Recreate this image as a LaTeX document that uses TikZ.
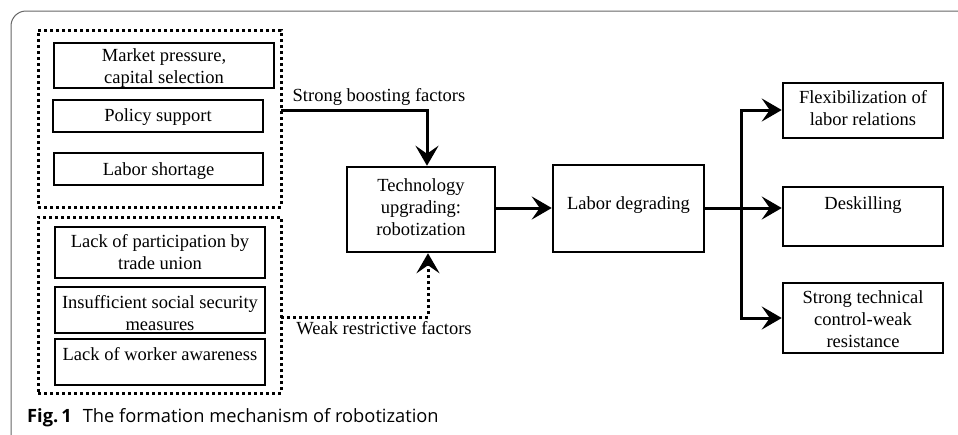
\documentclass[tikz,border=0pt]{standalone}
\usepackage{fontspec}
\setmainfont{Liberation Serif}
\newfontfamily\capfont{Open Sans}
\usetikzlibrary{arrows.meta}
\begin{document}
\begin{tikzpicture}[x=1pt,y=-1pt,
  box/.style={draw=black,line width=2.5pt,inner sep=0pt},
  txt/.style={inner sep=0pt,align=center,font=\fontsize{18.5}{22}\selectfont},
  grp/.style={draw=black,line width=3pt,dash pattern=on 3pt off 3pt,inner sep=0pt},
  arr/.style={line width=3pt,-{Stealth[length=20pt,width=23pt,inset=8pt]}},
  ln/.style={line width=3pt},
  lbl/.style={font=\fontsize{18.5}{22}\selectfont,inner sep=0pt}]
\useasboundingbox (0,0) rectangle (958,434);
% outer frame
\draw[gray!80!black,line width=1pt,rounded corners=15pt] (11,440) -- (11,11) -- (965,11);
% groups
\node[grp,minimum width=243pt,minimum height=177pt] (ub) at (159.5,118.5) {};
\node[grp,minimum width=243pt,minimum height=176pt] (lb) at (159.5,305) {};
% upper boxes
\node[box,minimum width=220pt,minimum height=45pt] (m1) at (164,65.5) {};
\node[txt] (m1t) at (164,68) {Market pressure,\\capital selection};
\node[box,minimum width=210pt,minimum height=32pt] (m2) at (158,116) {};
\node[txt] (m2t) at (158,117) {Policy support};
\node[box,minimum width=209pt,minimum height=32pt] (m3) at (158.5,169) {};
\node[txt] (m3t) at (158.5,171) {Labor shortage};
% lower boxes
\node[box,minimum width=210pt,minimum height=51pt] (l1) at (160,252.5) {};
\node[txt] (l1t) at (160,252) {Lack of participation by\\trade union};
\node[box,minimum width=210pt,minimum height=46pt] (l2) at (160,310) {};
\node[txt] (l2t) at (160,313) {Insufficient social security\\measures};
\node[box,minimum width=210pt,minimum height=46pt] (l3) at (160,362) {};
\node[txt] (l3t) at (160,354) {Lack of worker awareness};
% central
\node[box,minimum width=148pt,minimum height=85pt] (tech) at (421,209.5) {};
\node[txt] (techt) at (421,207.5) {Technology\\upgrading:\\robotization};
\node[box,minimum width=151pt,minimum height=87pt] (lab) at (628.5,208.5) {};
\node[txt] (labt) at (628.5,205) {Labor degrading};
% outcomes
\node[box,minimum width=160pt,minimum height=55pt] (flex) at (863,110.5) {};
\node[txt] (flext) at (863,108.5) {Flexibilization of\\labor relations};
\node[box,minimum width=160pt,minimum height=59pt] (desk) at (863,216.5) {};
\node[txt] (deskt) at (863,205) {Deskilling};
\node[box,minimum width=160pt,minimum height=70pt] (strong) at (863,318) {};
\node[txt] (strongt) at (863,319) {Strong technical\\control-weak\\resistance};
% connectors
\coordinate (ua) at (281,110);
\coordinate (la) at (281,317);
\draw[arr] (ua) -| ([xshift=6pt]tech.north);
\draw[arr,dash pattern=on 3pt off 3pt] (la) -| ([xshift=7pt]tech.south);
\node[lbl] (sb) at (379,97) {Strong boosting factors};
\node[lbl] (wr) at (384,328) {Weak restrictive factors};
\draw[arr] (tech.east |- 0,208) -- (lab.west |- 0,208);
\coordinate (j) at (741,208);
\draw[ln] (lab.east |- j) -- (j);
\draw[arr] (j) |- (flex.west |- 0,110);
\draw[arr] (j) -- (desk.west |- j);
\draw[arr] (j) |- (strong.west);
% caption
\node[anchor=base west,inner sep=0pt] (cap) at (27,422) {\capfont\fontsize{18.3}{21}\selectfont\textbf{Fig.\,1}\hspace{0.6em}The formation mechanism of robotization};
\end{tikzpicture}
\end{document}
